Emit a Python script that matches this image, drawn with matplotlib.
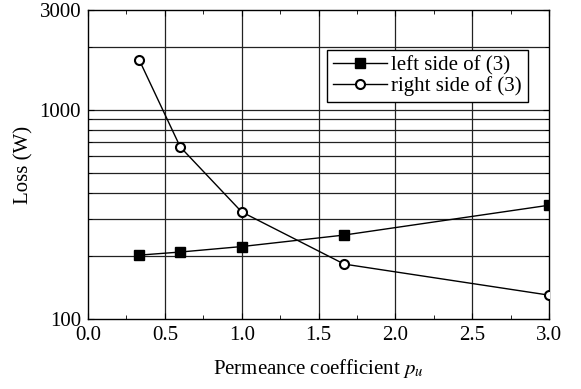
import matplotlib.pyplot as plt
from matplotlib.ticker import FixedLocator, MultipleLocator, NullFormatter

plt.rcParams["font.family"] = ["Liberation Serif", "DejaVu Serif"]
plt.rcParams["mathtext.fontset"] = "stix"

# data
pu = [0.333, 0.6, 1.0, 1.667, 3.0]
left_side = [202, 209, 222, 252, 350]
right_side = [1735, 665, 325, 183, 130]

x_ticks = [0.0, 0.5, 1.0, 1.5, 2.0, 2.5, 3.0]
y_major = [100, 1000, 3000]
y_grid = [200, 300, 400, 500, 600, 700, 800, 900, 1000, 2000]

fig = plt.figure(figsize=(5.81, 3.89), dpi=100)
ax = fig.add_axes([0.1515, 0.18, 0.7935, 0.794])

ax.plot(pu, left_side, color="black", lw=1, marker="s", ms=7,
        mfc="black", mec="black", label="left side of (3)", zorder=3)
ax.plot(pu, right_side, color="black", lw=1, marker="o", ms=6.5,
        mfc="white", mec="black", mew=1.5, label="right side of (3)", zorder=3)

ax.set_yscale("log")
ax.set_xlim(0, 3.0)
ax.set_ylim(100, 3000)

ax.xaxis.set_major_locator(FixedLocator(x_ticks))
ax.xaxis.set_minor_locator(MultipleLocator(0.25))
ax.set_xticklabels([f"{t:.1f}" for t in x_ticks])
ax.yaxis.set_major_locator(FixedLocator(y_major))
ax.yaxis.set_minor_locator(FixedLocator(y_grid))
ax.yaxis.set_minor_formatter(NullFormatter())
ax.set_yticklabels([str(v) for v in y_major])

for v in [0.5, 1.0, 1.5, 2.0, 2.5]:
    ax.axvline(v, color="#222222", lw=0.9, zorder=1)
for v in y_grid:
    ax.axhline(v, color="#222222", lw=0.9, zorder=1)

ax.tick_params(which="both", direction="in", top=True, right=True,
               labelsize=15)
ax.tick_params(axis="x", pad=5)
ax.tick_params(axis="y", pad=5)
ax.tick_params(which="major", length=4)
ax.tick_params(which="minor", length=3)
for s in ax.spines.values():
    s.set_linewidth(1)

ax.set_xlabel("Permeance coefficient $p_u$", fontsize=15, labelpad=9)
ax.set_ylabel("Loss (W)", fontsize=15, labelpad=4)

leg = ax.legend(loc="upper right", bbox_to_anchor=(0.955, 0.872),
                fontsize=15, frameon=True, fancybox=False, framealpha=1,
                edgecolor="black", handlelength=2.6, handletextpad=0.2,
                borderpad=0.3, labelspacing=0.02, borderaxespad=0)
leg.get_frame().set_linewidth(1)

fig.savefig("out.png", dpi=100)
